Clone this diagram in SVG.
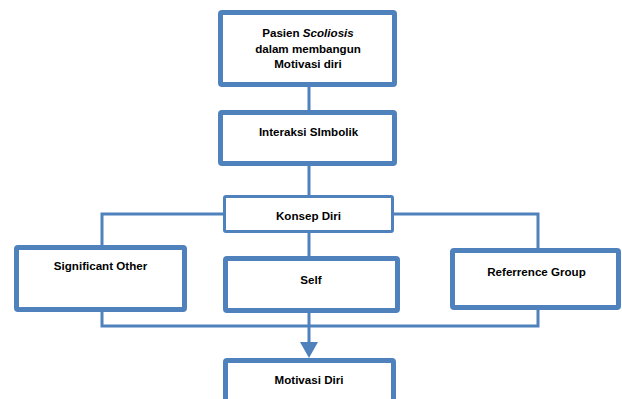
<svg xmlns="http://www.w3.org/2000/svg" width="622" height="399" viewBox="0 0 622 399">
<defs>
<style>
.box{fill:#fff;stroke:#4F81BD;stroke-width:5}
.thin{fill:#fff;stroke:#4F81BD;stroke-width:3}
.ln{fill:none;stroke:#4F81BD;stroke-width:3}
text{font-family:"Liberation Sans",Arial,sans-serif;font-weight:bold;font-size:11.6px;fill:#000;text-anchor:middle}
</style>
</defs>
<rect width="622" height="399" fill="#fff"/>
<g id="connectors">
<path class="ln" d="M309,87V110"/>
<path class="ln" d="M309,166V195"/>
<path class="ln" d="M223,214H102V245"/>
<path class="ln" d="M394,214H538V248"/>
<path class="ln" d="M309,233V256"/>
<path class="ln" d="M102,312V326H538V310"/>
<path class="ln" d="M309,313V343"/>
<polygon points="300,342 318,342 309,358" fill="#4F81BD"/>
</g>
<g id="pasien">
<rect class="box" x="220.5" y="12.5" width="174" height="72" rx="1.5"/>
<text x="308" y="37">Pasien <tspan font-style="italic">Scoliosis</tspan></text>
<text x="308" y="52.5">dalam membangun</text>
<text x="308" y="68">Motivasi diri</text>
</g>
<g id="interaksi">
<rect class="box" x="220.5" y="112.5" width="174" height="51" rx="1.5"/>
<text x="308.5" y="136">Interaksi SImbolik</text>
</g>
<g id="konsep">
<rect class="thin" x="224.5" y="196.5" width="168" height="35" rx="1.5"/>
<text x="308.5" y="220">Konsep Diri</text>
</g>
<g id="significant">
<rect class="box" x="16.5" y="247.5" width="168" height="62" rx="1.5"/>
<text x="100.5" y="270">Significant Other</text>
</g>
<g id="self">
<rect class="box" x="225.5" y="258.5" width="172" height="52" rx="1.5"/>
<text x="311" y="284">Self</text>
</g>
<g id="reference">
<rect class="box" x="452.5" y="250.5" width="166" height="57" rx="1.5"/>
<text x="536.5" y="276">Referrence Group</text>
</g>
<g id="motivasi">
<rect class="box" x="225.5" y="360.5" width="168" height="50" rx="1.5"/>
<text x="309" y="384">Motivasi Diri</text>
</g>
</svg>
